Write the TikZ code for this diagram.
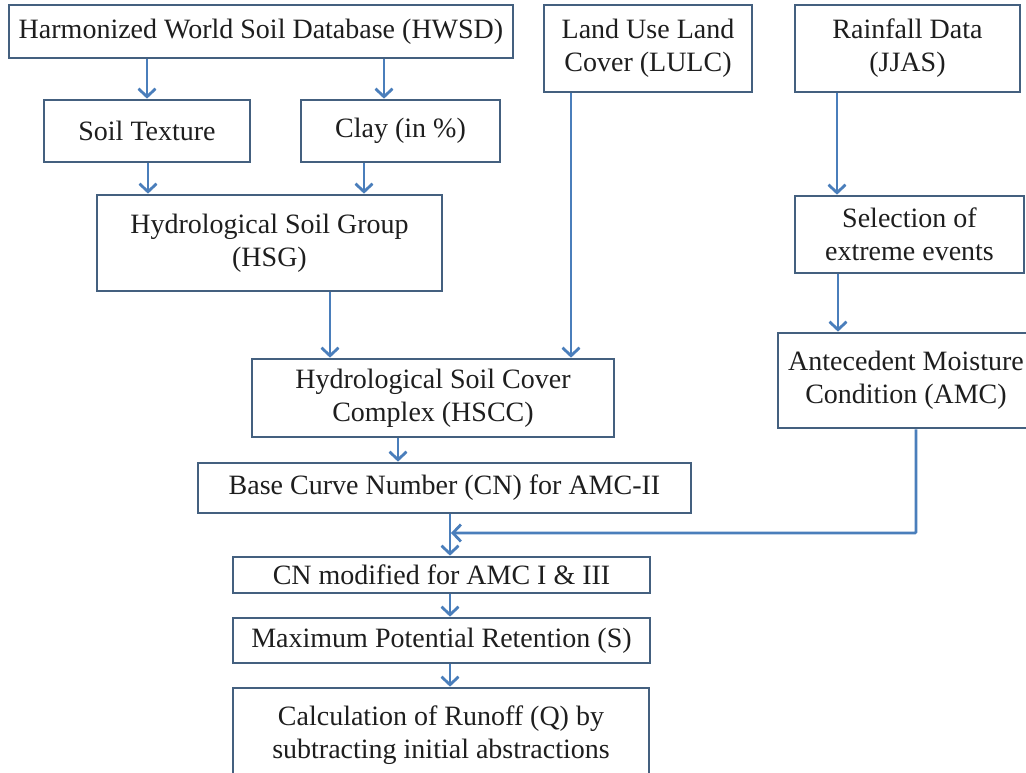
\documentclass[tikz,border=0pt]{standalone}
\usepackage{fontspec}
\setmainfont{Liberation Serif}
\usetikzlibrary{arrows.meta}
\definecolor{boxc}{HTML}{44607F}
\definecolor{arrc}{HTML}{4A7EBB}
\definecolor{txtc}{HTML}{1E1E1E}
\begin{document}
\begin{tikzpicture}[x=1pt,y=-1pt,
  box/.style={draw=boxc, line width=2.7pt, fill=white, align=center, inner sep=0pt, text=txtc, font=\fontsize{28}{33}\selectfont},
  arr/.style={draw=arrc, line width=2.8pt, -{Straight Barb[length=8pt,width=17pt]}}]
\useasboundingbox (0,0) rectangle (1026,772);
\node[box, minimum width=504pt, minimum height=53pt] (hwsd) at (261,31.5) {Harmonized World Soil Database (HWSD)};
\node[box, minimum width=208pt, minimum height=87pt] (lulc) at (648,48.5) {Land Use Land\\Cover (LULC)};
\node[box, minimum width=225pt, minimum height=87pt] (rain) at (907.5,48.5) {Rainfall Data\\(JJAS)};
\node[box, minimum width=206pt, minimum height=62pt] (soil) at (147,131) {Soil Texture};
\node[box, minimum width=199pt, minimum height=62pt] (clay) at (400.5,131) {Clay (in \%)};
\node[box, minimum width=345pt, minimum height=96pt] (hsg) at (269.5,243) {Hydrological Soil Group\\(HSG)};
\node[box, minimum width=229pt, minimum height=77pt] (sel) at (909.5,234.5) {Selection of\\extreme events};
\node[box, minimum width=256pt, minimum height=95pt] (amc) at (906,380.5) {Antecedent Moisture\\Condition (AMC)};
\node[box, minimum width=362pt, minimum height=78pt] (hscc) at (433,398) {Hydrological Soil Cover\\Complex (HSCC)};
\node[box, minimum width=493pt, minimum height=50pt] (base) at (444.5,488) {Base Curve Number (CN) for AMC-II};
\node[box, minimum width=417pt, minimum height=36pt] (cnmod) at (441.5,575) {CN modified for AMC I \& III};
\node[box, minimum width=417pt, minimum height=45pt] (smax) at (441.5,640.5) {Maximum Potential Retention (S)};
\node[box, minimum width=416pt, minimum height=94pt] (calc) at (441,735) {Calculation of Runoff (Q) by\\subtracting initial abstractions};
\coordinate (join) at (451,533);
\coordinate (bend) at (916,533);
\draw[arr] (147,0 |- hwsd.south) -- (147,0 |- soil.north);
\draw[arr] (384,0 |- hwsd.south) -- (384,0 |- clay.north);
\draw[arr] (148,0 |- soil.south) -- (148,0 |- hsg.north);
\draw[arr] (364,0 |- clay.south) -- (364,0 |- hsg.north);
\draw[arr] (330,0 |- hsg.south) -- (330,0 |- hscc.north);
\draw[arr] (571,0 |- lulc.south) -- (571,0 |- hscc.north);
\draw[arr] (837,0 |- rain.south) -- (837,0 |- sel.north);
\draw[arr] (838,0 |- sel.south) -- (838,0 |- amc.north);
\draw[arr] (398,0 |- hscc.south) -- (398,0 |- base.north);
\draw[arr] (450,0 |- base.south) -- (450,0 |- cnmod.north);
\draw[arr, rounded corners=1pt] (bend |- amc.south) -- (bend) -- (join);
\draw[arr] (450,0 |- cnmod.south) -- (450,0 |- smax.north);
\draw[arr] (450,0 |- smax.south) -- (450,0 |- calc.north);
\end{tikzpicture}
\end{document}
